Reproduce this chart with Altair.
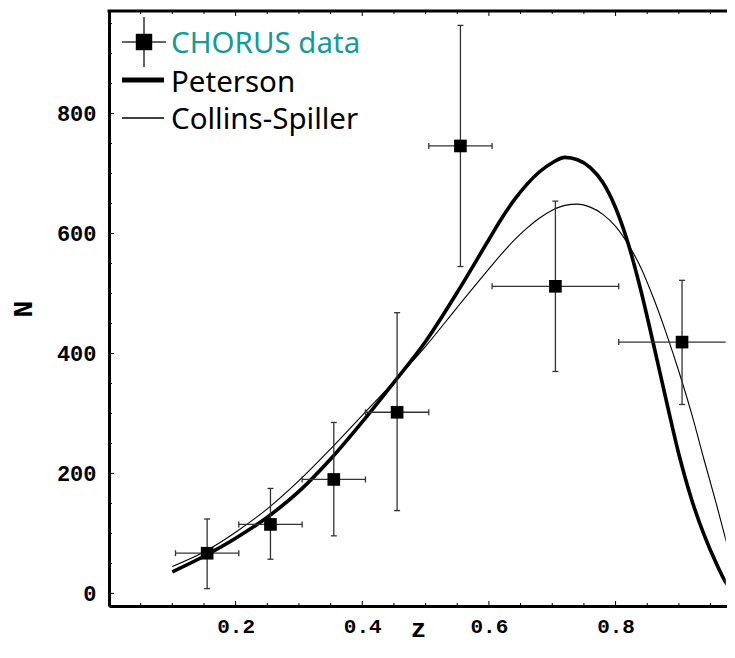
import altair as alt
import pandas as pd

# ---------------- data ----------------
z_pts = [0.155, 0.255, 0.355, 0.455, 0.555, 0.705, 0.905]
z_lo = [0.105, 0.205, 0.305, 0.405, 0.505, 0.605, 0.805]
z_hi = [0.205, 0.305, 0.405, 0.505, 0.605, 0.805, 1.005]
n_pts = [67, 115, 190, 302, 746, 512, 419]
n_lo = [8, 57, 96, 138, 545, 370, 315]
n_hi = [124, 175, 285, 468, 947, 654, 522]

pet_z = [0.10, 0.15, 0.20, 0.25, 0.30, 0.35, 0.40, 0.45, 0.50, 0.55, 0.60, 0.62,
         0.64, 0.66, 0.68, 0.70, 0.72, 0.74, 0.76, 0.78, 0.80, 0.82, 0.84, 0.86,
         0.88, 0.90, 0.92, 0.94, 0.96, 0.975, 0.989]
pet_n = [36, 62, 92, 127, 170, 224, 286, 352, 420, 502, 590, 625,
         656, 682, 703, 718, 727, 723, 710, 685, 643, 583, 505, 415,
         322, 232, 157, 97, 48, 17, 2]

cs_z = [0.10, 0.15, 0.20, 0.25, 0.30, 0.35, 0.40, 0.45, 0.50, 0.55, 0.60, 0.62,
        0.64, 0.66, 0.68, 0.70, 0.72, 0.74, 0.76, 0.78, 0.80, 0.82, 0.84, 0.86,
        0.88, 0.90, 0.92, 0.94, 0.96, 0.975, 0.989]
cs_n = [45, 69, 102, 141, 188, 241, 297, 353, 412, 477, 541, 566,
        589, 609, 626, 639, 647, 649, 644, 632, 612, 582, 543, 492,
        434, 370, 300, 222, 146, 86, 32]

x_ticks_major = [0.2, 0.4, 0.6, 0.8]
x_ticks_minor = [0.05, 0.1, 0.15, 0.25, 0.3, 0.35, 0.45, 0.5, 0.55, 0.65, 0.7, 0.75, 0.85, 0.9, 0.95]
y_ticks_major = [0, 200, 400, 600, 800]
y_ticks_minor = [50, 100, 150, 250, 300, 350, 450, 500, 550, 650, 700, 750, 850, 900, 950]

legend_labels = ["CHORUS data", "Peterson", "Collins-Spiller"]
legend_colors = ["#129c98", "#000000", "#000000"]

# ---------------- layout ----------------
W, H = 618, 595
XDOM = [0, 0.976]
YDOM = [-21, 971]
MONO = "Liberation Mono"
SANS = "Noto Sans"

pts = pd.DataFrame({"z": z_pts, "zlo": z_lo, "zhi": z_hi, "N": n_pts, "Nlo": n_lo, "Nhi": n_hi})
curves = pd.concat([
    pd.DataFrame({"z": pet_z, "N": pet_n, "s": "Peterson"}),
    pd.DataFrame({"z": cs_z, "N": cs_n, "s": "Collins-Spiller"}),
])

xs = alt.Scale(domain=XDOM, nice=False, zero=False)
ys = alt.Scale(domain=YDOM, nice=False, zero=False)

X = alt.X("z:Q", scale=xs, title="z",
          axis=alt.Axis(values=x_ticks_major, format=".1f", ticks=False, grid=False,
                        domainColor="black", domainWidth=3,
                        labelFont=MONO, labelFontSize=21, labelFontWeight="bold",
                        labelColor="black", labelPadding=9,
                        titleFont=MONO, titleFontSize=26, titleFontWeight="bold",
                        titleColor="black", titleBaseline="alphabetic", titleY=30))
Y = alt.Y("N:Q", scale=ys, title="N",
          axis=alt.Axis(values=y_ticks_major, ticks=False, grid=False,
                        domainColor="black", domainWidth=3,
                        labelFont=MONO, labelFontSize=22, labelFontWeight="bold",
                        labelColor="black", labelPadding=13,
                        titleFont=MONO, titleFontSize=28, titleFontWeight="bold",
                        titleColor="black", titleBaseline="middle", titleX=-86))

base_curve = alt.Chart(curves)
pet = base_curve.transform_filter(alt.datum.s == "Peterson").mark_line(
    color="black", strokeWidth=3.6, interpolate="monotone", clip=True).encode(x=X, y=Y)
cs = base_curve.transform_filter(alt.datum.s == "Collins-Spiller").mark_line(
    color="black", strokeWidth=1.1, interpolate="monotone", clip=True).encode(
    x=alt.X("z:Q", scale=xs), y=alt.Y("N:Q", scale=ys))

pb = alt.Chart(pts)
err_c = "#333333"
hbar = pb.mark_rule(color=err_c, strokeWidth=1.3, clip=True).encode(
    x=alt.X("zlo:Q", scale=xs), x2="zhi:Q", y=alt.Y("N:Q", scale=ys))
vbar = pb.mark_rule(color=err_c, strokeWidth=1.3, clip=True).encode(
    x=alt.X("z:Q", scale=xs), y=alt.Y("Nlo:Q", scale=ys), y2="Nhi:Q")
cap_l = pb.mark_rule(color=err_c, strokeWidth=1.3, yOffset=-3, y2Offset=3, clip=True).encode(
    x=alt.X("zlo:Q", scale=xs), y=alt.Y("N:Q", scale=ys), y2="N:Q")
cap_r = pb.mark_rule(color=err_c, strokeWidth=1.3, yOffset=-3, y2Offset=3, clip=True).encode(
    x=alt.X("zhi:Q", scale=xs), y=alt.Y("N:Q", scale=ys), y2="N:Q")
cap_b = pb.mark_rule(color=err_c, strokeWidth=1.3, xOffset=-3, x2Offset=3, clip=True).encode(
    x=alt.X("z:Q", scale=xs), x2="z:Q", y=alt.Y("Nlo:Q", scale=ys))
cap_t = pb.mark_rule(color=err_c, strokeWidth=1.3, xOffset=-3, x2Offset=3, clip=True).encode(
    x=alt.X("z:Q", scale=xs), x2="z:Q", y=alt.Y("Nhi:Q", scale=ys))
squares = pb.mark_square(size=160, color="black", opacity=1).encode(
    x=alt.X("z:Q", scale=xs), y=alt.Y("N:Q", scale=ys))

# frame ticks (inward)
def xtick_layer(vals, length):
    d = pd.DataFrame({"t": vals})
    b = alt.Chart(d).mark_rule(color="black", strokeWidth=1)
    bottom = b.encode(x=alt.X("t:Q", scale=xs), y=alt.value(H), y2=alt.value(H - length))
    top = b.encode(x=alt.X("t:Q", scale=xs), y=alt.value(0), y2=alt.value(length))
    return [bottom, top]

def ytick_layer(vals, length):
    d = pd.DataFrame({"t": vals})
    return [alt.Chart(d).mark_rule(color="black", strokeWidth=1).encode(
        y=alt.Y("t:Q", scale=ys), x=alt.value(0), x2=alt.value(length))]

ticks = (xtick_layer(x_ticks_major, 5) + xtick_layer(x_ticks_minor, 3)
         + ytick_layer(y_ticks_major, 5) + ytick_layer(y_ticks_minor, 3))

one = pd.DataFrame({"k": [0]})
# the plot is cut off at the right edge: hide any right border line
right_cover = alt.Chart(one).mark_rule(color="white", strokeWidth=2.5).encode(
    x=alt.value(W), y=alt.value(2), y2=alt.value(H - 2))
top_frame = alt.Chart(one).mark_rule(color="black", strokeWidth=3).encode(
    x=alt.value(-1.5), x2=alt.value(W), y=alt.value(0))

# legend (drawn inside the plot, top left)
leg = []
row_y = [31, 69, 107]
base_y = [42, 80.5, 117.5]
lx0, lx1, tx = 13, 55, 62
leg.append(alt.Chart(one).mark_rule(color=err_c, strokeWidth=1.5).encode(
    x=alt.value(lx0), x2=alt.value(lx1 + 2), y=alt.value(row_y[0])))
leg.append(alt.Chart(one).mark_rule(color=err_c, strokeWidth=1.5).encode(
    x=alt.value((lx0 + lx1 + 2) / 2), y=alt.value(row_y[0] - 25), y2=alt.value(row_y[0] + 25)))
leg.append(alt.Chart(one).mark_square(size=270, color="black", opacity=1).encode(
    x=alt.value((lx0 + lx1 + 2) / 2), y=alt.value(row_y[0])))
leg.append(alt.Chart(one).mark_rule(color="black", strokeWidth=5).encode(
    x=alt.value(lx0), x2=alt.value(lx1), y=alt.value(row_y[1])))
leg.append(alt.Chart(one).mark_rule(color="black", strokeWidth=1.3).encode(
    x=alt.value(lx0), x2=alt.value(lx1), y=alt.value(row_y[2])))
for lab, col, by in zip(legend_labels, legend_colors, base_y):
    leg.append(alt.Chart(one).mark_text(align="left", baseline="alphabetic", font=SANS,
                                        fontSize=29.5, color=col).encode(
        x=alt.value(tx), y=alt.value(by), text=alt.value(lab)))

chart = alt.layer(
    pet, cs, hbar, vbar, cap_l, cap_r, cap_b, cap_t, squares, *ticks, right_cover, top_frame, *leg
).properties(
    width=W, height=H,
    autosize=alt.AutoSizeParams(type="none"),
    padding={"left": 101, "top": 3, "right": 0, "bottom": 38},
).configure_view(strokeWidth=0, stroke="transparent").configure(background="white")

chart.save("out.html", embed_options={"renderer": "svg", "actions": False})
